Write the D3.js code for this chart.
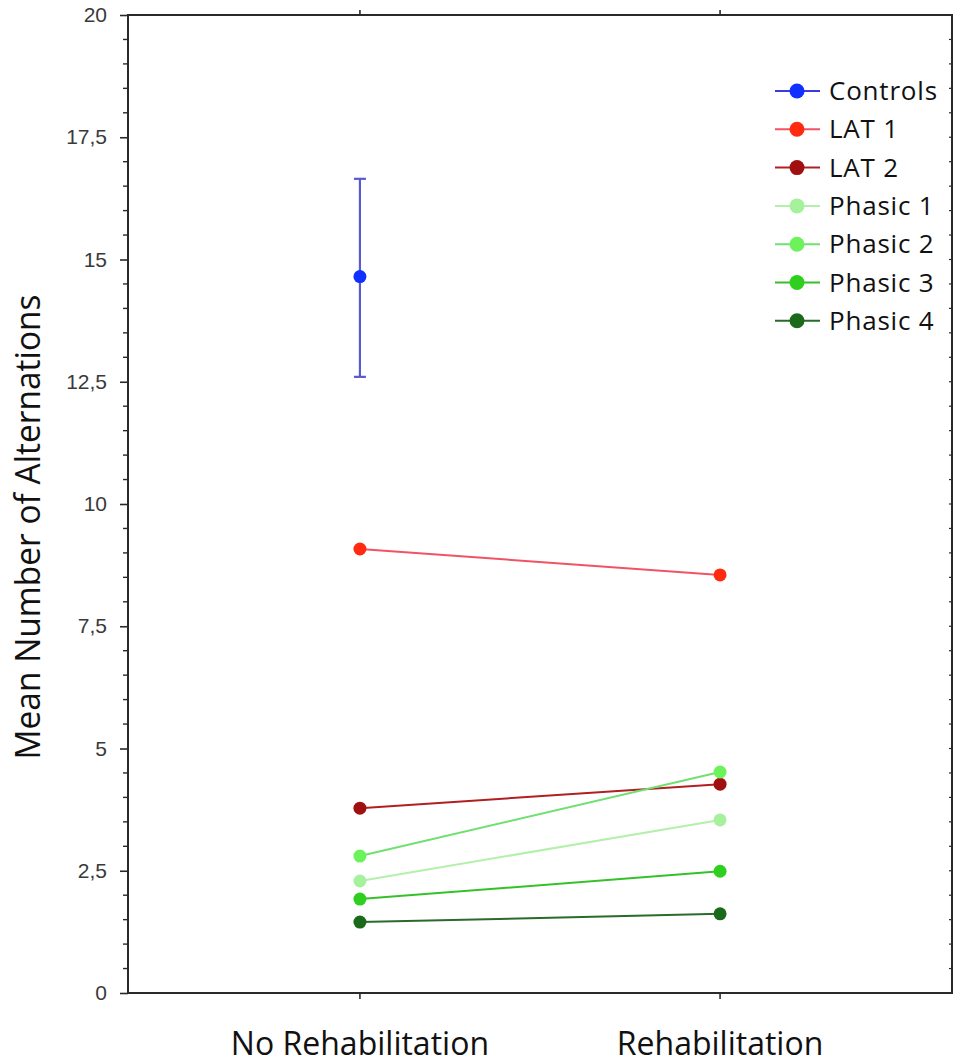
<!DOCTYPE html>
<html>
<head>
<meta charset="utf-8">
<script src="https://cdn.jsdelivr.net/npm/d3@7"></script>
<style>
    body { margin: 0; background: #ffffff; }
    .tick-label { font-family: "Liberation Sans", Arial, sans-serif; font-size: 21px; fill: #3a3a3a; }
    .x-label { font-family: "Open Sans", sans-serif; font-size: 32px; fill: #111; }
    .y-title { font-family: "Open Sans", sans-serif; font-size: 35px; fill: #111; }
    .leg-label { font-family: "Open Sans", sans-serif; font-size: 26px; fill: #111; letter-spacing: 0.8px; }
</style>
</head>
<body>
<svg id="chart" width="953" height="1063"></svg>
<script>
// chart data
const conditions = ["No Rehabilitation", "Rehabilitation"];
const groups = ["Controls", "LAT 1", "LAT 2", "Phasic 1", "Phasic 2", "Phasic 3", "Phasic 4"];
const groupColors = ["#1030ff", "#ff2a10", "#a01010", "#a6f29c", "#6cf25a", "#2ecf1e", "#1b6a1b"];
const lineColors = ["#3a3ae0", "#f05464", "#b02020", "#b4f0ac", "#70e070", "#36c02a", "#2a6a2a"];

// means per group (null = not measured)
const controlsMeans = [14.65, null];
const lat1Means = [9.08, 8.55];
const lat2Means = [3.78, 4.27];
const phasic1Means = [2.29, 3.54];
const phasic2Means = [2.80, 4.52];
const phasic3Means = [1.92, 2.49];
const phasic4Means = [1.45, 1.62];

// error bar for controls
const controlsErr = [12.6, 16.65];

const yTicks = [0, 2.5, 5, 7.5, 10, 12.5, 15, 17.5, 20];

let seriesData = [controlsMeans, lat1Means, lat2Means, phasic1Means, phasic2Means, phasic3Means, phasic4Means]
    .map((vals, i) => ({
        name: groups[i],
        color: groupColors[i],
        line: lineColors[i],
        values: vals.map((v, j) => ({cond: conditions[j], v: v})).filter(d => d.v !== null)
    }));

const svg = d3.select("#chart");
const mLeft = 128, mRight = 952, mTop = 15, mBottom = 993;

let x = d3.scalePoint()
    .domain(conditions)
    .range([mLeft, mRight])
    .padding(0.644);

let y = d3.scaleLinear()
    .domain([0, 20])
    .range([mBottom, mTop]);

//frame
svg.append("rect")
    .attr("x", mLeft)
    .attr("y", mTop)
    .attr("width", mRight - mLeft)
    .attr("height", mBottom - mTop)
    .attr("fill", "none")
    .attr("stroke", "#2a2a2a")
    .attr("stroke-width", 2);

//y axis with minor ticks
let minor = d3.range(0, 20.01, 0.5).filter(v => !yTicks.includes(v));
let yAxis = d3.axisLeft(y)
    .tickValues(yTicks)
    .tickSize(8)
    .tickPadding(13)
    .tickFormat(d => d3.format("")(d).replace(".", ","));

let yg = svg.append("g")
    .attr("transform", `translate(${mLeft},0)`)
    .call(yAxis);
yg.select(".domain").remove();
yg.selectAll("line").attr("stroke", "#2a2a2a").attr("stroke-width", 1.6);
yg.attr("font-size", null).attr("font-family", null);
yg.selectAll("text").attr("class", "tick-label").attr("fill", null);

svg.append("g")
    .selectAll("line")
    .data(minor)
    .join("line")
    .attr("x1", mLeft - 5)
    .attr("x2", mLeft)
    .attr("y1", d => y(d))
    .attr("y2", d => y(d))
    .attr("stroke", "#2a2a2a")
    .attr("stroke-width", 1.4);

// right side mirror ticks
svg.append("g")
    .selectAll("line")
    .data(d3.range(0, 20.01, 0.5))
    .join("line")
    .attr("x1", mRight - 3)
    .attr("x2", mRight)
    .attr("y1", d => y(d))
    .attr("y2", d => y(d))
    .attr("stroke", "#2a2a2a")
    .attr("stroke-width", 1.2);

//x ticks top and bottom
svg.append("g")
    .selectAll("line")
    .data(conditions)
    .join("line")
    .attr("x1", d => x(d))
    .attr("x2", d => x(d))
    .attr("y1", mBottom)
    .attr("y2", mBottom + 6)
    .attr("stroke", "#2a2a2a")
    .attr("stroke-width", 1.6);

svg.append("g")
    .selectAll("line")
    .data(conditions)
    .join("line")
    .attr("x1", d => x(d))
    .attr("x2", d => x(d))
    .attr("y1", mTop)
    .attr("y2", mTop - 5)
    .attr("stroke", "#2a2a2a")
    .attr("stroke-width", 1.6);

svg.append("g")
    .selectAll("text")
    .data(conditions)
    .join("text")
    .attr("class", "x-label")
    .attr("x", d => x(d))
    .attr("y", 1055)
    .attr("text-anchor", "middle")
    .text(d => d);

svg.append("text")
    .attr("class", "y-title")
    .attr("transform", "translate(40,527) rotate(-90)")
    .attr("text-anchor", "middle")
    .attr("textLength", 465)
    .attr("lengthAdjust", "spacingAndGlyphs")
    .text("Mean Number of Alternations");

//error bar for controls
let eb = svg.append("g");
eb.append("line")
    .attr("x1", x(conditions[0]))
    .attr("x2", x(conditions[0]))
    .attr("y1", y(controlsErr[0]))
    .attr("y2", y(controlsErr[1]))
    .attr("stroke", "#5a5ad0")
    .attr("stroke-width", 2.2);
eb.selectAll(".cap")
    .data(controlsErr)
    .join("line")
    .attr("class", "cap")
    .attr("x1", x(conditions[0]) - 6)
    .attr("x2", x(conditions[0]) + 6)
    .attr("y1", d => y(d))
    .attr("y2", d => y(d))
    .attr("stroke", "#5a5ad0")
    .attr("stroke-width", 2.2);

//lines + points
let lineGen = d3.line()
    .x(d => x(d.cond))
    .y(d => y(d.v));

let sg = svg.append("g")
    .selectAll("g")
    .data(seriesData)
    .join("g");

sg.append("path")
    .attr("d", d => lineGen(d.values))
    .attr("fill", "none")
    .attr("stroke", d => d.line)
    .attr("stroke-width", 2);

sg.selectAll("circle")
    .data(d => d.values.map(v => ({...v, color: d.color})))
    .join("circle")
    .attr("cx", d => x(d.cond))
    .attr("cy", d => y(d.v))
    .attr("r", 6.5)
    .attr("fill", d => d.color);

//legend
let leg = svg.append("g")
    .selectAll("g")
    .data(seriesData)
    .join("g")
    .attr("transform", (d, i) => `translate(775,${91 + i * 38.3})`);

leg.append("line")
    .attr("x1", 0)
    .attr("x2", 45)
    .attr("stroke", d => d.line)
    .attr("stroke-width", 2);

leg.append("circle")
    .attr("cx", 22)
    .attr("r", 7.5)
    .attr("fill", d => d.color);

leg.append("text")
    .attr("class", "leg-label")
    .attr("x", 54)
    .attr("dy", "0.35em")
    .text(d => d.name);
</script>
</body>
</html>
